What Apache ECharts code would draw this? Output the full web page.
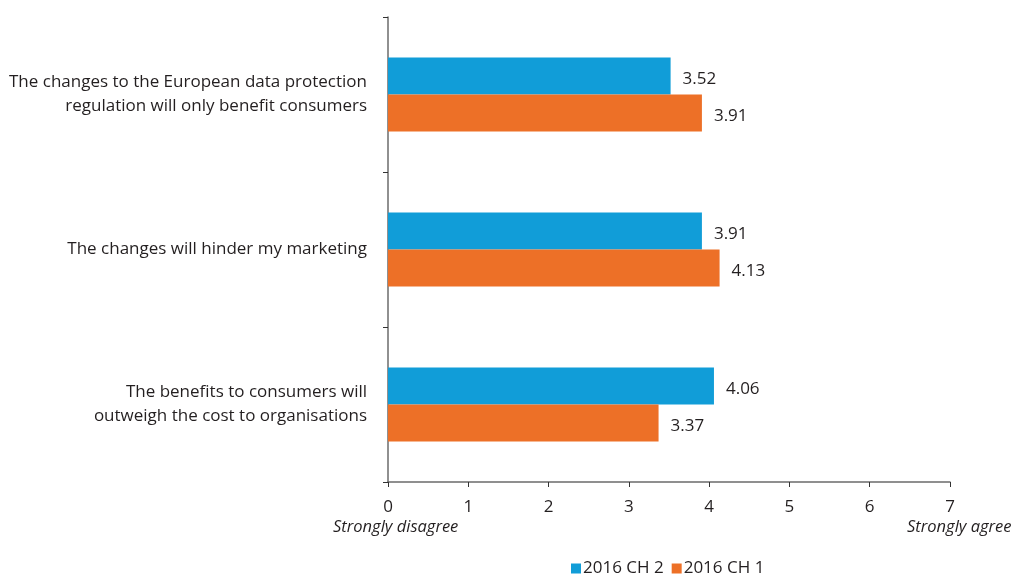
<!DOCTYPE html>
<html>
<head>
<meta charset="utf-8">
<script src="https://cdn.jsdelivr.net/npm/echarts@6/dist/echarts.min.js"></script>
<style>
  html, body { margin: 0; padding: 0; background: #fff; }
  #chart { width: 1014px; height: 576px; }
</style>
</head>
<body>
<div id="chart"></div>
<script>
// Survey statements (top to bottom)
const categories = [
  'The changes to the European data protection\nregulation will only benefit consumers',
  'The changes will hinder my marketing',
  'The benefits to consumers will\noutweigh the cost to organisations'
];
const seriesNames = ['2016 CH 2', '2016 CH 1'];
const ch2Values = [3.52, 3.91, 4.06];
const ch1Values = [3.91, 4.13, 3.37];
const scaleMin = 0;
const scaleMax = 7;
const scaleEnds = ['Strongly disagree', 'Strongly agree'];

const font = '"Open Sans", "Noto Sans", sans-serif';
const textColor = '#231f20';
const axisColor = '#6b6b6b';

const chart = echarts.init(document.getElementById('chart'), null, { renderer: 'canvas' });

const valueLabel = {
  show: true,
  position: 'right',
  distance: 12,
  offset: [0, 3],
  color: textColor,
  fontFamily: font,
  fontSize: 17,
  formatter: p => p.value.toFixed(2)
};

chart.setOption({
  animation: false,
  textStyle: { fontFamily: font },
  grid: { left: 388, right: 64, top: 17, bottom: 94, containLabel: false },
  legend: {
    data: seriesNames,
    left: 566,
    bottom: -6,
    itemWidth: 10,
    itemHeight: 10,
    itemGap: 8,
    icon: 'rect',
    textStyle: { color: textColor, fontSize: 17, fontFamily: font, padding: [0, 0, 0, -3] }
  },
  xAxis: {
    type: 'value',
    min: scaleMin,
    max: scaleMax,
    interval: 1,
    splitLine: { show: false },
    axisLine: { show: true, lineStyle: { color: axisColor, width: 1.5 } },
    axisTick: { show: true, length: 5, lineStyle: { color: '#333' } },
    axisLabel: { color: textColor, fontSize: 17, margin: 17, fontFamily: font }
  },
  yAxis: {
    type: 'category',
    data: categories,
    inverse: true,
    axisLine: { show: true, lineStyle: { color: axisColor, width: 1.5 } },
    axisTick: { show: true, length: 5, alignWithLabel: false, lineStyle: { color: '#333' } },
    axisLabel: {
      color: textColor,
      fontSize: 17,
      lineHeight: 24,
      margin: 21,
      align: 'right',
      padding: [6, 0, 0, 0],
      fontFamily: font
    }
  },
  series: [
    {
      name: seriesNames[0],
      type: 'bar',
      data: ch2Values,
      barWidth: 37,
      barGap: '0%',
      itemStyle: { color: '#119dd8' },
      label: valueLabel
    },
    {
      name: seriesNames[1],
      type: 'bar',
      data: ch1Values,
      barWidth: 37,
      barGap: '0%',
      itemStyle: { color: '#ed7027' },
      label: valueLabel
    }
  ]
});

// Scale end captions beneath the first and last ticks
function placeCaptions() {
  const x0 = chart.convertToPixel({ xAxisIndex: 0 }, scaleMin);
  const x1 = chart.convertToPixel({ xAxisIndex: 0 }, scaleMax);
  chart.setOption({
    graphic: [
      {
        type: 'text', left: x0 - 55, top: 519,
        style: { text: scaleEnds[0], fill: textColor, font: 'italic 16.5px ' + font }
      },
      {
        type: 'text', left: x1 - 43, top: 519,
        style: { text: scaleEnds[1], fill: textColor, font: 'italic 16.5px ' + font }
      }
    ]
  });
}
placeCaptions();
</script>
</body>
</html>
